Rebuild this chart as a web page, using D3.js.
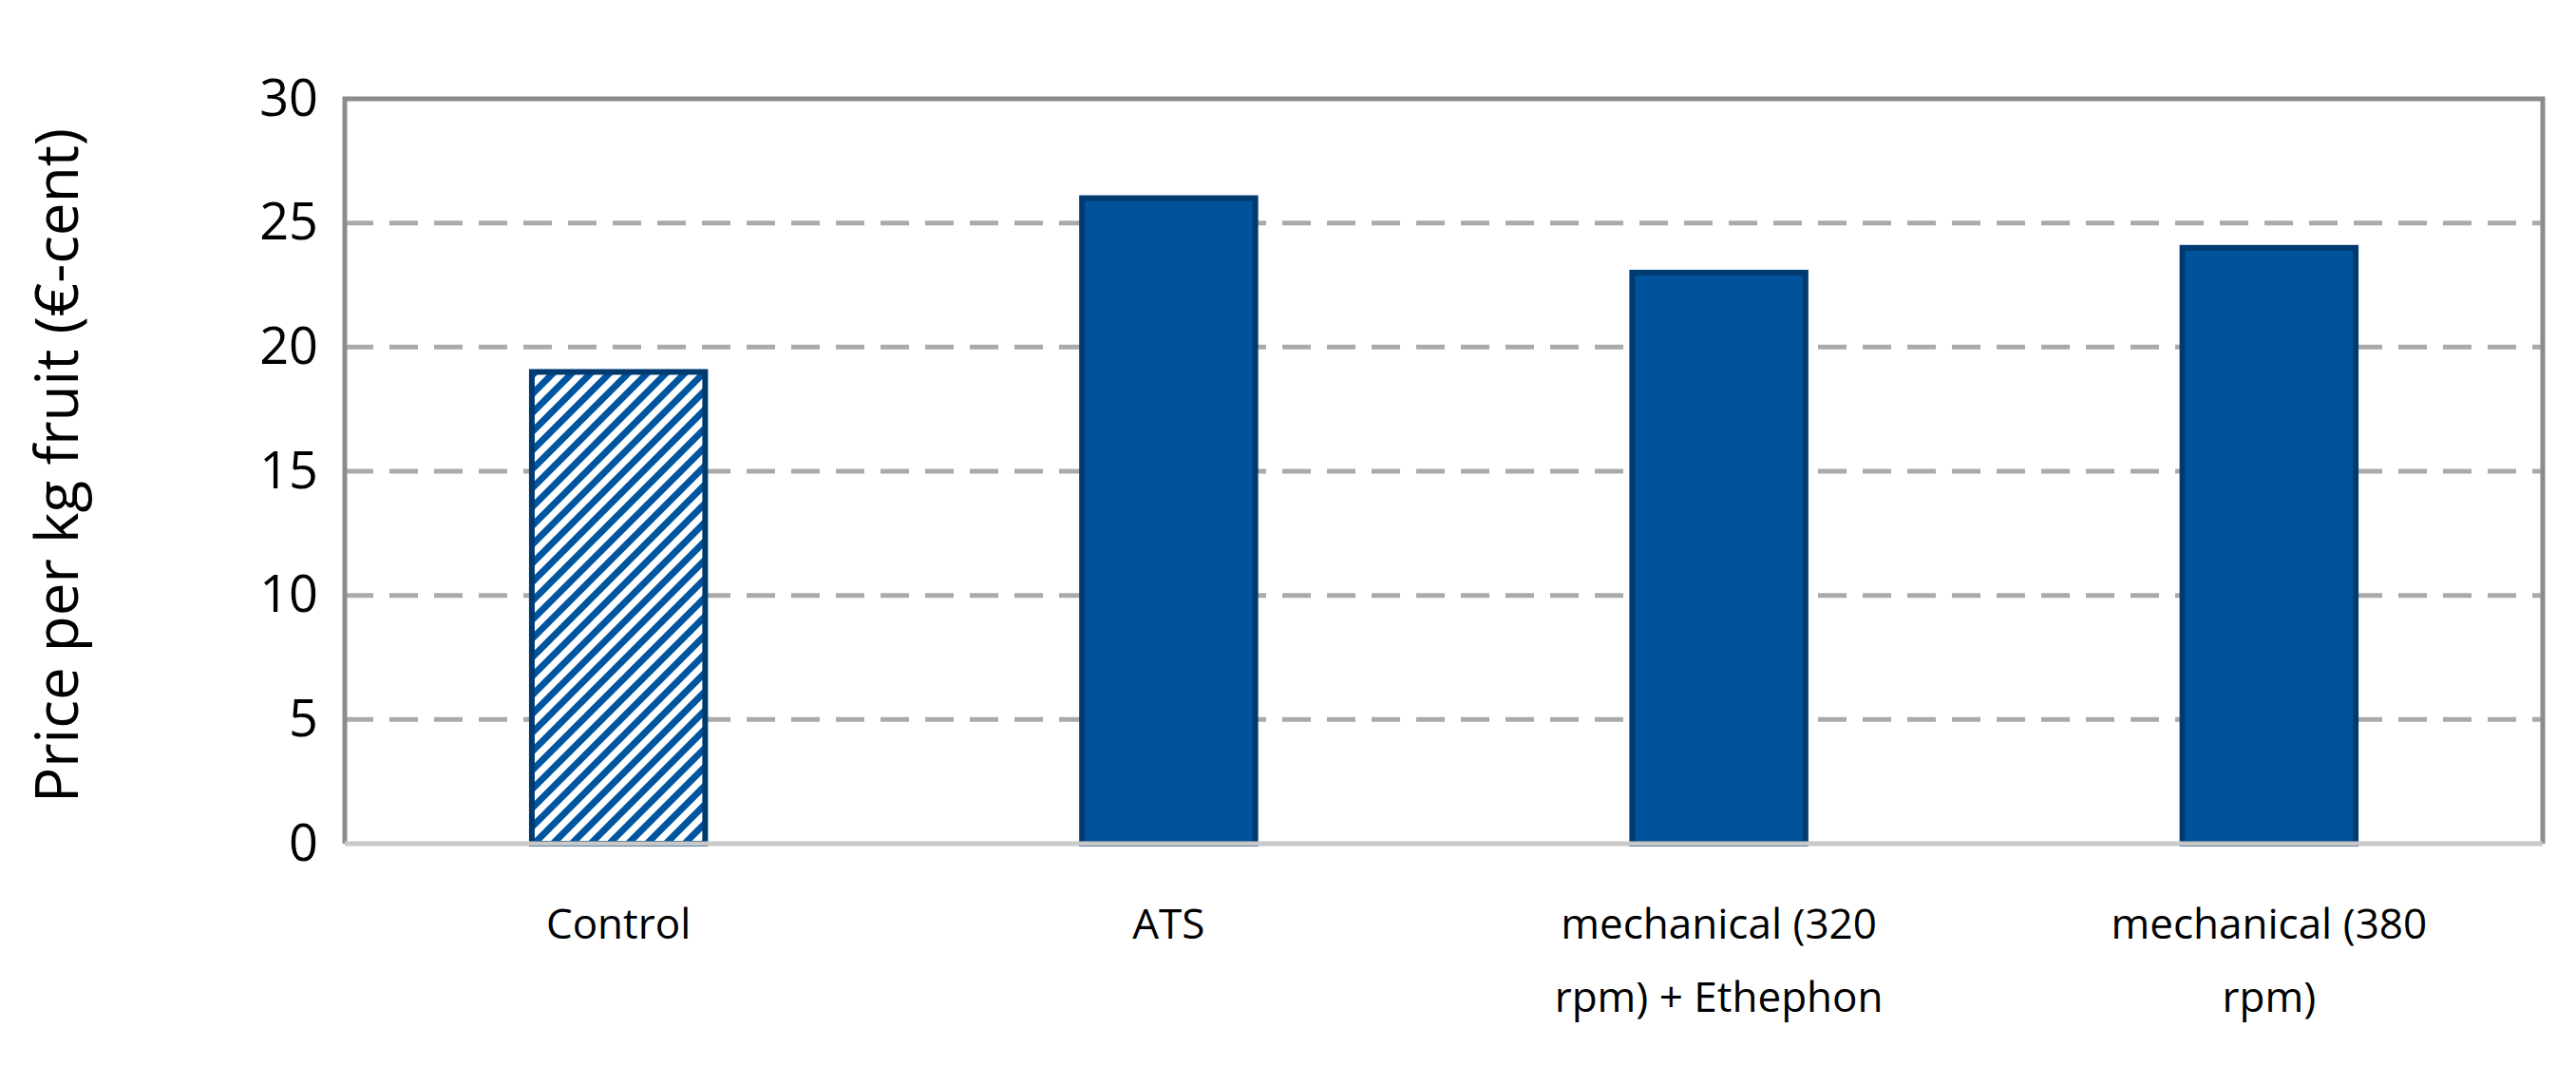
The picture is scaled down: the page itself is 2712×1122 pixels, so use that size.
<!DOCTYPE html>
<html><head><meta charset="utf-8">
<script src="https://cdn.jsdelivr.net/npm/d3@7"></script>
<style>body{margin:0;background:#fff}svg{display:block}</style>
</head><body>
<script>
const categories = ["Control", "ATS", "mechanical (320 rpm) + Ethephon", "mechanical (380 rpm)"];
const labelLines = [["Control"], ["ATS"], ["mechanical (320", "rpm) + Ethephon"], ["mechanical (380", "rpm)"]];
const values = [19, 26, 23, 24];
const yTicks = [0, 5, 10, 15, 20, 25, 30];

const width = 2712, height = 1122;
const margin = {left: 363, right: 35, top: 104, bottom: 234};
const font = "'Open Sans', 'Liberation Sans', sans-serif";

const svg = d3.select("body").append("svg").attr("width", width).attr("height", height);

const defs = svg.append("defs");
const pat = defs.append("pattern").attr("id", "hatch").attr("patternUnits", "userSpaceOnUse")
  .attr("width", 14).attr("height", 14).attr("patternTransform", "rotate(-45)");
pat.append("rect").attr("width", 14).attr("height", 14).attr("fill", "#fff");
pat.append("rect").attr("width", 14).attr("height", 7).attr("fill", "#0055a0");

const x = d3.scaleBand().domain(categories).range([margin.left, width - margin.right]).paddingInner(0.685).paddingOuter(0.34);
const y = d3.scaleLinear().domain([0, 30]).range([height - margin.bottom, margin.top]);

// gridlines
svg.append("g").selectAll("line").data(yTicks.filter(t => t > 0 && t < 30)).enter().append("line")
  .attr("x1", margin.left).attr("x2", width - margin.right)
  .attr("y1", d => y(d)).attr("y2", d => y(d))
  .attr("stroke", "#aaaaaa").attr("stroke-width", 5).attr("stroke-dasharray", "30,17");

// bars
svg.append("g").selectAll("rect").data(values).enter().append("rect")
  .attr("x", (d, i) => x(categories[i]))
  .attr("y", d => y(d))
  .attr("width", x.bandwidth())
  .attr("height", d => y(0) - y(d))
  .attr("fill", (d, i) => i === 0 ? "url(#hatch)" : "#00539b")
  .attr("stroke", "#003a70").attr("stroke-width", 6);

// frame
svg.append("path")
  .attr("d", `M${margin.left},${y(0)}V${y(30)}H${width - margin.right}V${y(0)}`)
  .attr("fill", "none").attr("stroke", "#8c8c8c").attr("stroke-width", 5);
svg.append("line").attr("x1", margin.left).attr("x2", width - margin.right)
  .attr("y1", y(0)).attr("y2", y(0)).attr("stroke", "#c8c8c8").attr("stroke-width", 5);

// y axis
const yAxis = d3.axisLeft(y).tickValues(yTicks).tickSize(0).tickPadding(28);
svg.append("g").attr("transform", `translate(${margin.left},0)`).call(yAxis)
  .call(g => g.select(".domain").remove())
  .selectAll("text").attr("font-family", font).attr("font-size", 54).attr("fill", "#000");

// x labels
const lbl = svg.append("g").selectAll("text").data(labelLines).enter().append("text")
  .attr("x", (d, i) => x(categories[i]) + x.bandwidth() / 2)
  .attr("y", 988).attr("text-anchor", "middle")
  .attr("font-family", font).attr("font-size", 44).attr("fill", "#000");
lbl.selectAll("tspan").data(d => d).enter().append("tspan")
  .attr("x", function () { return this.parentNode.getAttribute("x"); })
  .attr("dy", (d, i) => i === 0 ? 0 : 77).text(d => d);

// y title
svg.append("text").attr("transform", `translate(82,${(y(0) + y(30)) / 2 - 6}) rotate(-90)`)
  .attr("text-anchor", "middle").attr("font-family", font).attr("font-size", 62).attr("fill", "#000")
  .text("Price per kg fruit (€-cent)");
</script>
</body></html>
